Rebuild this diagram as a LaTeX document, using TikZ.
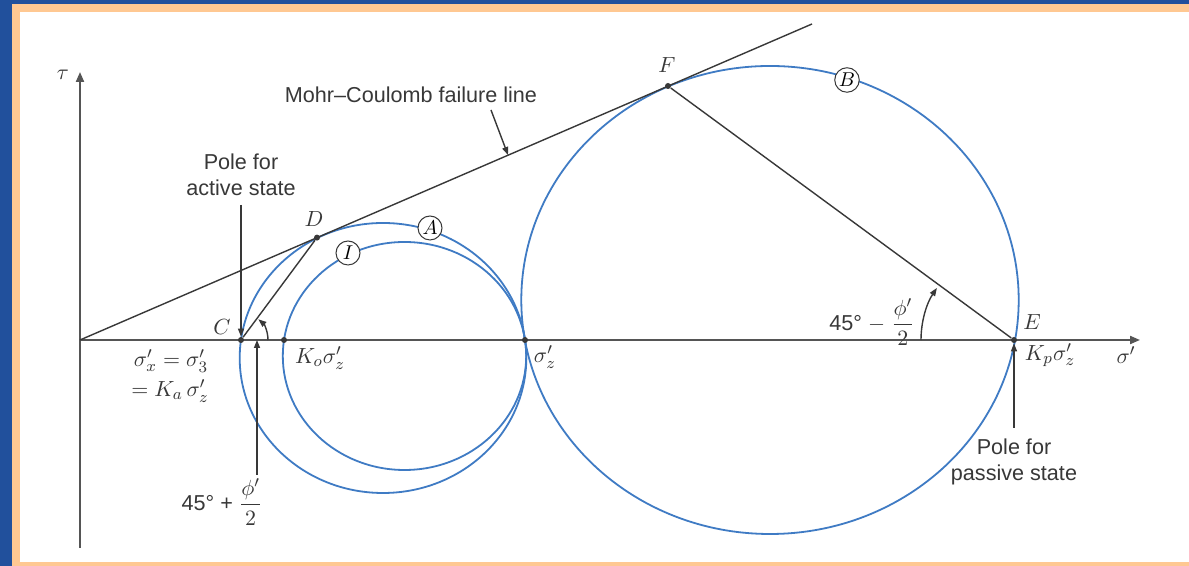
\documentclass[tikz,border=0pt]{standalone}
\usepackage{fontspec}
\setmainfont{Liberation Sans}
\usepackage{amsmath}
\usepackage{xcolor}
\definecolor{MohrNavy}{HTML}{21509C}
\definecolor{MohrPeach}{HTML}{FFC892}
\definecolor{MohrBlue}{HTML}{3F7BC4}
\definecolor{MohrInk}{HTML}{383838}
\definecolor{MohrGrey}{HTML}{555555}
\usetikzlibrary{positioning,arrows.meta,calc}
\tikzset{
  mcaxis/.style={draw=MohrGrey,line width=1pt,-{Triangle[length=5pt,width=4pt]}},
  mccircle/.style={draw=MohrBlue,line width=0.9pt},
  mcline/.style={draw=MohrInk,line width=0.7pt},
  mcpole/.style={draw=MohrInk,line width=0.7pt,-{Triangle[length=4pt,width=3pt]}},
  mcdot/.style={circle,fill=MohrInk,inner sep=0pt,minimum size=3pt},
  mcring/.style={circle,draw=MohrInk,fill=white,line width=0.5pt,inner sep=0.6pt,minimum size=12pt,font=\fontsize{10}{12}\selectfont},
  mctext/.style={align=center,text=MohrInk,font=\fontsize{10.8}{13}\selectfont},
  mcmath/.style={text=MohrInk,inner sep=1pt,font=\fontsize{11}{13}\selectfont}
}
\begin{document}
\begin{tikzpicture}[x=0.5pt,y=0.5pt]
  \useasboundingbox (0,0) rectangle (1189,566);
  \fill[MohrNavy] (0,0) rectangle (1189,566);
  \fill[MohrPeach] (12,0) rectangle (1189,562);
  \fill[white] (20,4) rectangle (1189,554);
  \coordinate (O) at (80,226);
  \coordinate (tauBase) at (80,18);
  \coordinate (tauTip) at (80,494);
  \coordinate (sigTip) at (1140,226);
  \draw[mcaxis] (tauBase) -- (tauTip);
  \draw[mcaxis] (O) -- (sigTip);
  \coordinate (cI) at (404.5,210);
  \coordinate (cA) at (383,208);
  \coordinate (cB) at (770,266);
  \draw[mccircle] (cI) ellipse [x radius=121.7,y radius=114];
  \draw[mccircle] (cA) ellipse [x radius=143.3,y radius=135];
  \draw[mccircle] (cB) ellipse [x radius=248.7,y radius=234];
  \coordinate (lineEnd) at (812,542);
  \draw[mcline] (O) -- (lineEnd);
  \node[mcdot] (C) at (241,226) {};
  \node[mcdot] (K0) at (284,226) {};
  \node[mcdot] (Sz) at (525,226) {};
  \node[mcdot] (E) at (1014,226) {};
  \node[mcdot] (D) at (317,328.4) {};
  \node[mcdot] (F) at (668,480) {};
  \draw[mcline] (C) -- (D);
  \draw[mcline] (F) -- (E);
  \draw[mcpole] ($(C)+(27,0)$) arc [start angle=0,end angle=50,radius=27];
  \draw[mcpole] ($(E)+(-93,0)$) arc [start angle=180,end angle=146,radius=93];
  \coordinate (activeTop) at (241,361);
  \draw[mcpole] (activeTop) -- (C);
  \node[mctext,above=1pt of activeTop] (activeLbl) {Pole for\\active state};
  \coordinate (passiveBot) at (1014,138);
  \draw[mcpole] (passiveBot) -- (E);
  \node[mctext,below=2pt of passiveBot] (passiveLbl) {Pole for\\passive state};
  \coordinate (angTail) at (257,91);
  \coordinate (angHead) at (257,226);
  \draw[mcpole] (angTail) -- (angHead);
  \node[mctext] (plusLbl) at (222,64) {45° + $\dfrac{\phi'}{2}$};
  \node[mctext] (minusLbl) at (872,244) {45° $-$ $\dfrac{\phi'}{2}$};
  \node[mctext] (envLbl) at (411,471) {Mohr–Coulomb failure line};
  \coordinate (envTail) at (491,456);
  \coordinate (envHit) at (508,411);
  \draw[mcpole] (envTail) -- (envHit);
  \node[mcmath] (tauLbl) at (63,491) {$\tau$};
  \node[mcmath] (sigLbl) at (1126,211) {$\sigma'$};
  \node[mcmath] (CLbl) at (222,239) {$C$};
  \node[mcmath] (DLbl) at (314,347) {$D$};
  \node[mcmath] (FLbl) at (667,501) {$F$};
  \node[mcmath] (ELbl) at (1032,244) {$E$};
  \node[mcmath] (K0Lbl) at (320,208) {$K_o\sigma'_z$};
  \node[mcmath] (SzLbl) at (545,209) {$\sigma'_z$};
  \node[mcmath] (KpLbl) at (1050,211) {$K_p\sigma'_z$};
  \node[mcmath] (KaTop) at (171,205) {$\sigma'_x = \sigma'_3$};
  \node[mcmath] (KaBot) at (170,175) {$= K_a\,\sigma'_z$};
  \node[mcring] (tagA) at (430,338) {$A$};
  \node[mcring] (tagB) at (847,486) {$B$};
  \node[mcring] (tagI) at (348,313) {$I$};
\end{tikzpicture}
\end{document}
